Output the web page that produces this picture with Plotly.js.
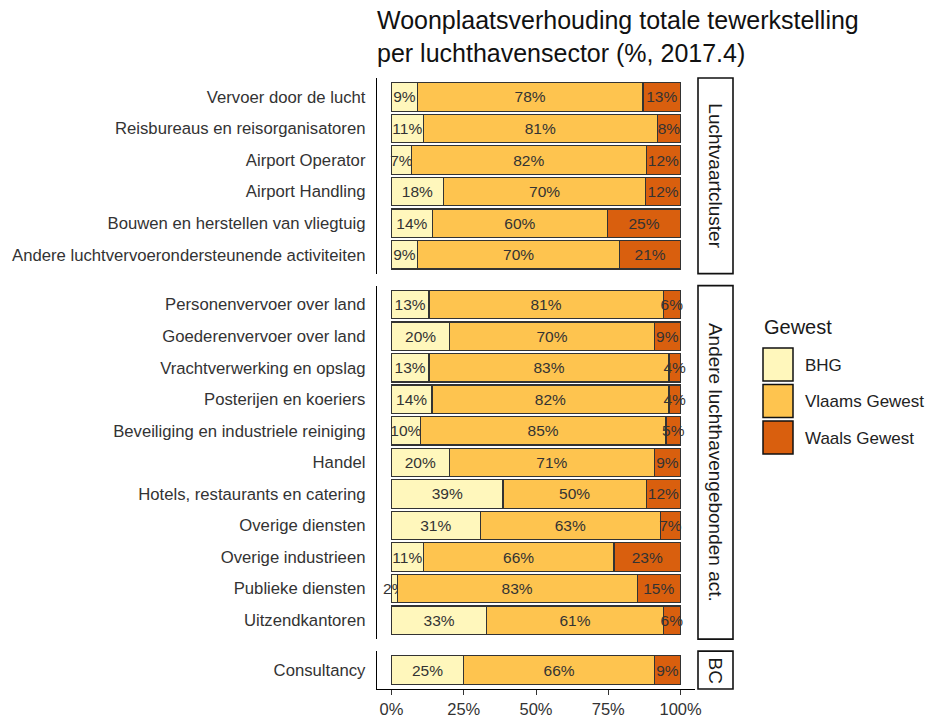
<!DOCTYPE html>
<html>
<head>
<meta charset="utf-8">
<script src="https://cdn.plot.ly/plotly-3.0.1.min.js"></script>
<style>html,body{margin:0;padding:0;background:#fff;}#chart{width:928px;height:717px;}</style>
</head>
<body>
<div id="chart"></div>
<script>
// ---- data ----
const panelNames = ["Luchtvaartcluster", "Andere luchthavengebonden act.", "BC"];
const sectors1 = ["Vervoer door de lucht", "Reisbureaus en reisorganisatoren", "Airport Operator", "Airport Handling", "Bouwen en herstellen van vliegtuig", "Andere luchtvervoerondersteunende activiteiten"];
const bhg1 = [9, 11, 7, 18, 14, 9];
const vlaams1 = [78, 81, 82, 70, 60, 70];
const waals1 = [13, 8, 12, 12, 25, 21];

const sectors2 = ["Personenvervoer over land", "Goederenvervoer over land", "Vrachtverwerking en opslag", "Posterijen en koeriers", "Beveiliging en industriele reiniging", "Handel", "Hotels, restaurants en catering", "Overige diensten", "Overige industrieen", "Publieke diensten", "Uitzendkantoren"];
const bhg2 = [13, 20, 13, 14, 10, 20, 39, 31, 11, 2, 33];
const vlaams2 = [81, 70, 83, 82, 85, 71, 50, 63, 66, 83, 61];
const waals2 = [6, 9, 4, 4, 5, 9, 12, 7, 23, 15, 6];

const sectors3 = ["Consultancy"];
const bhg3 = [25];
const vlaams3 = [66];
const waals3 = [9];

const seriesNames = ["BHG", "Vlaams Gewest", "Waals Gewest"];
const seriesColors = ["#FFF7BC", "#FEC44F", "#D95F0E"];
const tickVals = [0, 25, 50, 75, 100];
const tickLabels = ["0%", "25%", "50%", "75%", "100%"];
const legendTitle = "Gewest";
const titleText = "Woonplaatsverhouding totale tewerkstelling<br>per luchthavensector (%, 2017.4)";

// ---- layout geometry ----
const W = 928, H = 717;
const M = {l: 377, r: 233, t: 78, b: 28};
const PW = W - M.l - M.r, PH = H - M.t - M.b;
const px2x = p => (p - M.l) / PW;
const px2y = p => (H - M.b - p) / PH;

const panels = [
  {names: sectors1, vals: [bhg1, vlaams1, waals1]},
  {names: sectors2, vals: [bhg2, vlaams2, waals2]},
  {names: sectors3, vals: [bhg3, vlaams3, waals3]}
];
const gapPx = 12;
const units = panels.map(p => p.names.length - 1 + 1.2);
const unitPx = (PH - gapPx * (panels.length - 1)) / units.reduce((a, b) => a + b, 0);

const font = "Liberation Sans, Arial, sans-serif";
const layout = {
  width: W, height: H,
  margin: M,
  paper_bgcolor: "#fff", plot_bgcolor: "#fff",
  font: {family: font, color: "#333"},
  barmode: "stack", barnorm: "percent", bargap: 0.1,
  showlegend: false,
  uniformtext: {mode: "show", minsize: 15},
  title: {text: titleText, x: 0, xref: "paper", xanchor: "left", y: 1 - 29 / H, yref: "container", yanchor: "top",
          font: {size: 25, color: "#111", family: font}},
  xaxis: {range: [-5, 105], tickvals: tickVals, ticktext: tickLabels, showgrid: false, zeroline: false,
          showline: true, linecolor: "#000", linewidth: 1.2, ticks: "outside", ticklen: 5, tickcolor: "#333",
          tickfont: {size: 16.5, color: "#333"}, anchor: "y3", fixedrange: true},
  shapes: [], annotations: []
};

const data = [];
let topPx = M.t;
panels.forEach((p, i) => {
  const hPx = units[i] * unitPx;
  const suffix = i === 0 ? "" : String(i + 1);
  const n = p.names.length;
  layout["yaxis" + suffix] = {
    type: "category", categoryorder: "array", categoryarray: p.names,
    range: [n - 0.4, -0.6], autorange: false,
    domain: [px2y(topPx + hPx), px2y(topPx)], anchor: "x",
    showgrid: false, zeroline: false, showline: true, linecolor: "#000", linewidth: 1.2,
    ticks: "outside", ticklen: 7, tickcolor: "rgba(0,0,0,0)",
    tickfont: {size: 16.7, color: "#333"}, fixedrange: true
  };
  p.vals.forEach((vals, s) => {
    data.push({
      type: "bar", orientation: "h", y: p.names, x: vals, name: seriesNames[s],
      xaxis: "x", yaxis: "y" + suffix,
      marker: {color: seriesColors[s], line: {color: "#333", width: 1.2}},
      text: vals.map(v => v + "%"), textposition: "inside", insidetextanchor: "middle",
      textangle: 0, constraintext: "none", cliponaxis: false,
      textfont: {size: 15.5, color: "#333", family: font}, hoverinfo: "none"
    });
  });
  // facet strip
  layout.shapes.push({type: "rect", xref: "paper", yref: "paper",
    x0: px2x(698), x1: px2x(733), y0: px2y(topPx + hPx), y1: px2y(topPx),
    line: {color: "#111", width: 1.6}, fillcolor: "#fff"});
  layout.annotations.push({xref: "paper", yref: "paper", x: px2x(715.5), y: px2y(topPx + hPx / 2),
    text: panelNames[i], textangle: 90, showarrow: false, xanchor: "center", yanchor: "middle",
    font: {size: 19, color: "#1a1a1a", family: font}});
  topPx += hPx + gapPx;
});

// legend (drawn manually to match large keys)
layout.annotations.push({xref: "paper", yref: "paper", x: px2x(762), y: px2y(327), text: legendTitle,
  showarrow: false, xanchor: "left", yanchor: "middle", font: {size: 20, color: "#1a1a1a", family: font}});
seriesNames.forEach((nm, s) => {
  const top = 348 + s * 36.5;
  layout.shapes.push({type: "rect", xref: "paper", yref: "paper",
    x0: px2x(763), x1: px2x(793), y0: px2y(top + 33), y1: px2y(top),
    line: {color: "#111", width: 1.5}, fillcolor: seriesColors[s]});
  layout.annotations.push({xref: "paper", yref: "paper", x: px2x(803), y: px2y(top + 17), text: nm,
    showarrow: false, xanchor: "left", yanchor: "middle", font: {size: 17, color: "#222", family: font}});
});

Plotly.newPlot("chart", data, layout, {displayModeBar: false, staticPlot: true});
</script>
</body>
</html>
